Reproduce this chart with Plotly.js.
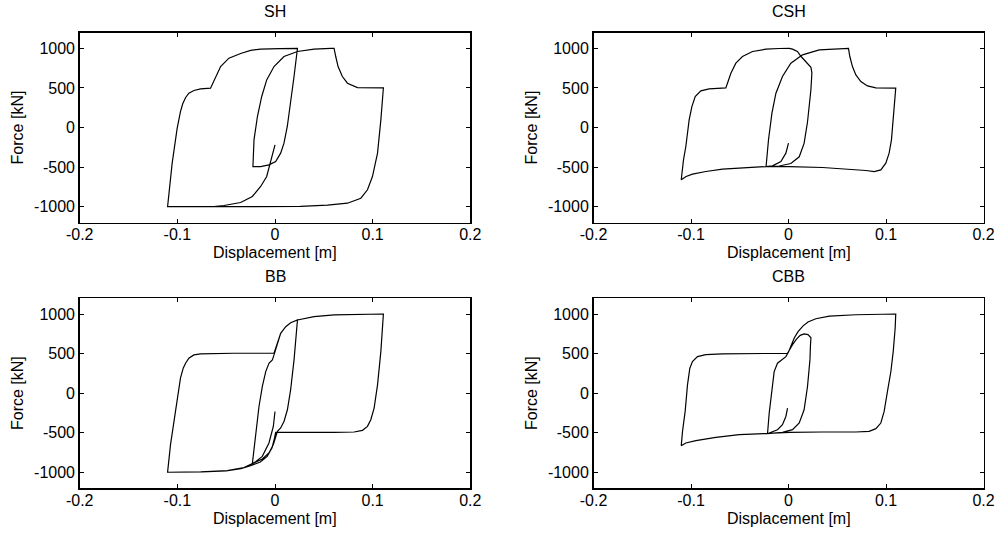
<!DOCTYPE html>
<html>
<head>
<meta charset="utf-8">
<script src="https://cdn.plot.ly/plotly-3.0.1.min.js"></script>
<style>
html,body{margin:0;padding:0;background:#fff;}
#chart{width:1000px;height:534px;}
</style>
</head>
<body>
<div id="chart"></div>
<script>
// Panel titles
const panelTitles = ['SH', 'CSH', 'BB', 'CBB'];
const xLabel = 'Displacement [m]';
const yLabel = 'Force [kN]';

// Tick labels
const dispTicks = [-0.2, -0.1, 0, 0.1, 0.2];
const dispTickText = ['-0.2', '-0.1', '0', '0.1', '0.2'];
const forceTicks = [-1000, -500, 0, 500, 1000];
const forceTickText = ['-1000', '-500', '0', '500', '1000'];

// SH: displacement [m] / force [kN]
const shDisp = [0, -0.0027, -0.0051, -0.0085, -0.0147, -0.0232, -0.0352, -0.0523, -0.0626, -0.085, -0.110,
  -0.1053, -0.1002, -0.0968, -0.0945, -0.0915, -0.0882, -0.083, -0.0762, -0.066, -0.0609, -0.0557, -0.0472, -0.0352, -0.0249, -0.0147, 0.005, 0.023,
  0.0195, 0.0161, 0.0126, 0.0092, 0.0058, 0.0007, -0.0062, -0.0147, -0.0226,
  -0.0215, -0.018, -0.0136, -0.0085, -0.001, 0.0092, 0.023, 0.040, 0.057, 0.0605,
  0.0622, 0.0646, 0.069, 0.0742, 0.0844, 0.0947, 0.111,
  0.1084, 0.105, 0.0998, 0.0947, 0.0879, 0.0742, 0.0537, 0.026, -0.042, -0.110];
const shForce = [-218, -345, -492, -619, -745, -871, -947, -985, -998, -1000, -1000,
  -450, -10, 200, 300, 380, 434, 468, 489, 497, 623, 770, 876, 935, 975, 990, 997, 1000,
  644, 307, 13, -198, -324, -429, -471, -493, -493,
  -155, 139, 392, 602, 770, 897, 960, 990, 1000, 1000,
  897, 770, 644, 560, 505, 500, 500,
  97, -324, -619, -787, -893, -956, -981, -995, -1000, -1000];

// CSH
const cshDisp = [0, -0.0027, -0.0078, -0.0164, -0.023, -0.0506, -0.0677, -0.0848, -0.0985, -0.105, -0.110,
  -0.1077, -0.1053, -0.1019, -0.0991, -0.0957, -0.0899, -0.0814, -0.0643, -0.0626, -0.0591, -0.054, -0.0472, -0.0369, -0.0232, -0.0096, 0.0007,
  0.0041, 0.0092, 0.0127, 0.018, 0.023, 0.024, 0.023, 0.0195, 0.016, 0.011, 0.0024, -0.0095, -0.023,
  -0.0205, -0.017, -0.0129, -0.0062, 0.0024, 0.0144, 0.0315, 0.052, 0.0615,
  0.0629, 0.0656, 0.0691, 0.0742, 0.081, 0.0896, 0.110,
  0.1087, 0.1074, 0.1056, 0.1032, 0.0998, 0.0947, 0.0879, 0.0793, 0.0622, 0.0349, 0.0007, -0.023];
const cshForce = [-197, -324, -429, -484, -493, -509, -526, -556, -589, -619, -660,
  -408, -240, 97, 265, 392, 463, 488, 501, 560, 686, 813, 897, 960, 989, 998, 1000,
  990, 960, 900, 830, 760, 690, 480, 70, -200, -370, -455, -486, -493,
  -155, 182, 434, 644, 813, 918, 981, 1000, 1000,
  897, 770, 665, 581, 526, 501, 497,
  265, 97, -156, -324, -450, -535, -556, -543, -526, -505, -493, -493];

// BB
const bbDisp = [0, -0.0017, -0.0062, -0.013, -0.0215, -0.0318, -0.0489, -0.076, -0.110,
  -0.107, -0.1019, -0.0968, -0.094, -0.0916, -0.0882, -0.0831, -0.0762, -0.042, -0.001, 0.0025, 0.0058, 0.011, 0.016, 0.023,
  0.022, 0.0195, 0.016, 0.0127, 0.0092, 0.0058, 0.0025, 0.0007, -0.0017, -0.0062, -0.013, -0.0232,
  -0.0198, -0.0164, -0.013, -0.0095, -0.0062, -0.0027, -0.001, 0.0025, 0.0058, 0.011, 0.016, 0.023, 0.040, 0.0605, 0.081, 0.111,
  0.110, 0.1084, 0.105, 0.1015, 0.0981, 0.0947, 0.0896, 0.081, 0.0605, 0.0263, 0.0007,
  -0.0005, -0.003, -0.008, -0.015, -0.025, -0.035, -0.05, -0.075, -0.110];
const bbForce = [-232, -421, -630, -799, -882, -940, -978, -995, -1000,
  -651, -231, 189, 315, 378, 441, 483, 496, 504, 504, 630, 756, 840, 890, 924,
  756, 420, 42, -210, -358, -441, -484, -547, -651, -756, -832, -891,
  -504, -169, 83, 272, 378, 420, 483, 630, 756, 840, 890, 924, 966, 990, 995, 1000,
  819, 525, 105, -189, -336, -420, -470, -491, -496, -496, -496,
  -570, -690, -800, -870, -918, -955, -982, -997, -1000];

// CBB
const cbbDisp = [-0.001, -0.0027, -0.0062, -0.0113, -0.0198, -0.0215, -0.0506, -0.0745, -0.095, -0.1053, -0.110,
  -0.1087, -0.106, -0.1036, -0.1012, -0.0985, -0.0933, -0.0848, -0.0677, -0.001, 0.004, 0.008, 0.012, 0.016, 0.020, 0.023, 0.0225,
  0.022, 0.0195, 0.016, 0.011, 0.0041, -0.0062, -0.0215,
  -0.0198, -0.017, -0.0147, -0.0113, -0.0062, -0.0027, 0, 0.003, 0.006, 0.010, 0.015, 0.020, 0.028, 0.042, 0.069, 0.110,
  0.1094, 0.1074, 0.105, 0.1015, 0.0981, 0.0947, 0.0896, 0.0827, 0.069, 0.0349, 0.0007, -0.0215];
const cbbForce = [-189, -295, -400, -462, -504, -510, -525, -559, -601, -630, -664,
  -483, -231, 105, 315, 399, 462, 487, 496, 504, 610, 680, 730, 748, 740, 700, 600,
  420, 84, -210, -378, -462, -496, -510,
  -252, 84, 272, 378, 428, 461, 520, 620, 700, 780, 850, 900, 940, 974, 991, 1000,
  819, 525, 273, 21, -231, -378, -449, -483, -491, -491, -496, -510];

const seriesDisp = [shDisp, cshDisp, bbDisp, cbbDisp];
const seriesForce = [shForce, cshForce, bbForce, cbbForce];

const FONT = 'Liberation Sans, Arial, Helvetica, sans-serif';
const fs = 16;
const H = 534;

const xDomains = [[0.0797, 0.4703], [0.5935, 0.9835], [0.0797, 0.4703], [0.5935, 0.9835]];
const yDomains = [[0.5833, 0.9391], [0.5833, 0.9391], [0.0860, 0.4416], [0.0860, 0.4416]];

const traces = [];
const layout = {
  width: 1000, height: H,
  margin: {l: 0, r: 0, t: 0, b: 0},
  paper_bgcolor: '#ffffff', plot_bgcolor: '#ffffff',
  showlegend: false,
  font: {family: FONT, size: fs, color: '#000'},
  annotations: []
};

for (let i = 0; i < 4; i++) {
  const s = i === 0 ? '' : String(i + 1);
  const xc = (xDomains[i][0] + xDomains[i][1]) / 2;
  traces.push({
    x: seriesDisp[i], y: seriesForce[i],
    xaxis: 'x' + s, yaxis: 'y' + s,
    type: 'scatter', mode: 'lines',
    line: {color: '#000', width: 1.2},
    hoverinfo: 'skip'
  });
  layout['xaxis' + s] = {
    domain: xDomains[i], anchor: 'y' + s,
    range: [-0.2, 0.2],
    tickvals: dispTicks, ticktext: dispTickText,
    ticks: 'inside', ticklen: 4, tickwidth: 1, tickcolor: '#000',
    ticklabelstandoff: -3,
    showline: true, mirror: 'ticks', linecolor: '#000', linewidth: 1.5,
    showgrid: false, zeroline: false, fixedrange: true,
    tickfont: {family: FONT, size: fs, color: '#000'}
  };
  layout['yaxis' + s] = {
    domain: yDomains[i], anchor: 'x' + s,
    range: [-1200, 1200],
    tickvals: forceTicks, ticktext: forceTickText,
    ticks: 'inside', ticklen: 4, tickwidth: 1, tickcolor: '#000',
    showline: true, mirror: 'ticks', linecolor: '#000', linewidth: 1.5,
    showgrid: false, zeroline: false, fixedrange: true,
    tickfont: {family: FONT, size: fs, color: '#000'},
    title: {text: yLabel, font: {family: FONT, size: fs, color: '#000'}, standoff: 6}
  };
  // panel title
  layout.annotations.push({
    text: panelTitles[i], xref: 'paper', yref: 'paper',
    x: xc, y: yDomains[i][1] + 21.5 / H,
    xanchor: 'center', yanchor: 'middle', showarrow: false,
    font: {family: FONT, size: fs, color: '#000'}
  });
  // x-axis label
  layout.annotations.push({
    text: xLabel, xref: 'paper', yref: 'paper',
    x: xc, y: yDomains[i][0] - 30 / H,
    xanchor: 'center', yanchor: 'middle', showarrow: false,
    font: {family: FONT, size: fs, color: '#000'}
  });
}

Plotly.newPlot('chart', traces, layout, {staticPlot: true, displayModeBar: false});
</script>
</body>
</html>
